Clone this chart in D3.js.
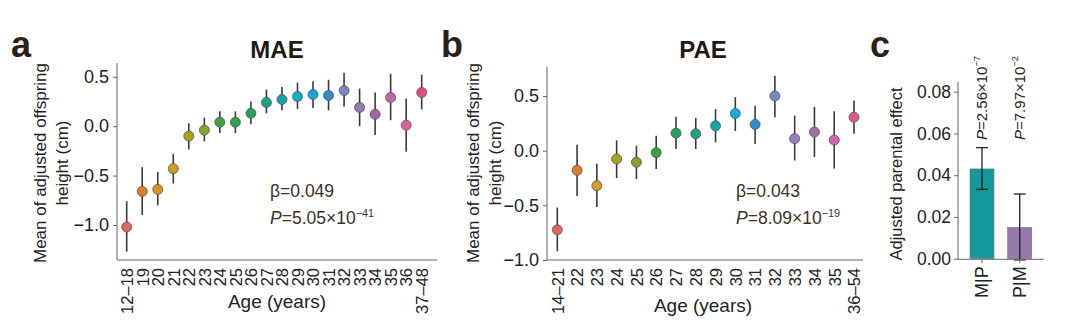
<!DOCTYPE html>
<html>
<head>
<meta charset="utf-8">
<script src="https://cdn.jsdelivr.net/npm/d3@7"></script>
<style>
  body { margin: 0; background: #fff; }
  svg { display: block; font-family: Arial, "Liberation Sans", Helvetica, sans-serif; }
  .axis path, .axis line { stroke: #666; }
  .axis text { fill: #222; }
</style>
</head>
<body>
<svg id="fig" width="1080" height="324"></svg>
<script>
// maternal age effect (panel a)
var maeAges  = ['12–18','19','20','21','22','23','24','25','26','27','28','29','30','31','32','33','34','35','36','37–48'];
var maeMean  = [-1.02,-0.66,-0.64,-0.43,-0.10,-0.04,0.04,0.04,0.13,0.24,0.27,0.30,0.32,0.31,0.36,0.19,0.12,0.29,0.01,0.34];
var maeLow   = [-1.27,-0.90,-0.80,-0.58,-0.235,-0.155,-0.07,-0.07,0.02,0.13,0.16,0.175,0.185,0.16,0.20,0.00,-0.09,0.06,-0.26,0.17];
var maeHigh  = [-0.76,-0.415,-0.465,-0.28,0.03,0.085,0.15,0.15,0.25,0.37,0.395,0.44,0.455,0.47,0.54,0.38,0.34,0.53,0.28,0.52];
var maeColors = ['#e8625c','#e37b2a','#d8951e','#c4a21c','#a5a41c','#7fa52a','#3fa33c','#2ea24c','#20a25e','#13a487','#12a3a6',
                 '#14a9c6','#16a3dc','#2f8bd0','#7c86c4','#9679b8','#a2659f','#c865a8','#e25f9e','#e04b7c'];

// paternal age effect (panel b)
var paeAges  = ['14–21','22','23','24','25','26','27','28','29','30','31','32','33','34','35','36–54'];
var paeMean  = [-0.724,-0.18,-0.32,-0.076,-0.106,-0.018,0.16,0.155,0.227,0.34,0.24,0.50,0.11,0.17,0.097,0.306];
var paeLow   = [-0.92,-0.415,-0.515,-0.25,-0.26,-0.167,0.015,0.015,0.076,0.18,0.06,0.306,-0.09,-0.058,-0.164,0.155];
var paeHigh  = [-0.52,0.055,-0.12,0.094,0.045,0.136,0.31,0.30,0.38,0.49,0.41,0.685,0.32,0.40,0.36,0.458];
var paeColors = ['#e8625c','#e17c22','#d59d22','#a9a21f','#7ea52f','#34a243','#20a262','#1fa27e','#12a7a6','#12ade0',
                 '#2b90d0','#7886c6','#957fbf','#a669a9','#d062b0','#e0598a'];

// parental effect comparison (panel c)
var pairLabels = ['M|P','P|M'];
var pairEffect = [0.043, 0.015];
var pairLow    = [0.0332, -0.0006];
var pairHigh   = [0.0532, 0.031];
var pairP      = [['2.56','-7'], ['7.97','-2']];
var pairColors = ['#14999a','#9479aa'];

var yTicks = [-1.0, -0.5, 0.0, 0.5];
var effectTicks = [0, 0.02, 0.04, 0.06, 0.08];

var svg = d3.select('#fig');
var ink = '#3d3029';

function panelLetter(x, y, s) {
    svg.append('text').attr('x', x).attr('y', y)
        .attr('font-size', 36).attr('font-weight', 'bold').attr('fill', '#2d1e17')
        .text(s);
}

// writes "P=a×10^b" into a text element, P in italics
function pText(sel, mant, expo) {
    sel.append('tspan').attr('font-style', 'italic').text('P');
    sel.append('tspan').text('=' + mant + '×10');
    sel.append('tspan').attr('dy', -7).attr('font-size', '0.62em').text(expo.replace('-', '−'));
}

function dotPanel(o) {
    var x = d3.scalePoint().domain(o.cats).range(o.xr);
    var y = d3.scaleLinear().domain(o.yd).range([o.bottom, o.top]);
    var g = svg.append('g');

    // y axis
    var ya = g.append('g').attr('class', 'axis')
        .attr('transform', 'translate(' + o.axisX + ',0)')
        .call(d3.axisLeft(y).tickValues(yTicks).tickSize(4).tickSizeOuter(0).tickPadding(4));
    ya.select('.domain').remove();
    ya.selectAll('text').attr('font-size', 18).text(function(d) { return d3.format('.1f')(d).replace('-', '−'); });
    g.append('line').attr('x1', o.axisX).attr('x2', o.axisX).attr('y1', o.top).attr('y2', o.bottom)
        .attr('stroke', '#666');

    // x axis
    var xa = g.append('g').attr('class', 'axis')
        .attr('transform', 'translate(0,' + o.bottom + ')')
        .call(d3.axisBottom(x).tickSize(0).tickPadding(0));
    xa.select('.domain').remove();
    xa.selectAll('text')
        .attr('font-size', 16.5)
        .attr('text-anchor', 'end')
        .attr('dy', '0.35em')
        .attr('transform', 'translate(0,8) rotate(-90)')
        .attr('x', 0).attr('y', 0);
    g.append('line').attr('x1', o.axisX).attr('x2', o.axisEnd).attr('y1', o.bottom).attr('y2', o.bottom)
        .attr('stroke', '#666');

    // error bars and points
    g.selectAll('.err').data(o.cats).enter().append('line')
        .attr('x1', function(d) { return x(d); }).attr('x2', function(d) { return x(d); })
        .attr('y1', function(d, i) { return y(o.low[i]); })
        .attr('y2', function(d, i) { return y(o.high[i]); })
        .attr('stroke', '#3a3a3a').attr('stroke-width', 1.6);
    g.selectAll('.pt').data(o.cats).enter().append('circle')
        .attr('cx', function(d) { return x(d); })
        .attr('cy', function(d, i) { return y(o.mean[i]); })
        .attr('r', 5)
        .attr('fill', function(d, i) { return o.colors[i]; })
        .attr('stroke', '#555').attr('stroke-width', 0.8);

    // titles
    g.append('text').attr('x', o.titleX).attr('y', 58).attr('text-anchor', 'middle')
        .attr('font-size', 24).attr('font-weight', 'bold').attr('fill', '#231812').text(o.title);
    g.append('text').attr('x', o.titleX).attr('y', o.xlabY).attr('text-anchor', 'middle')
        .attr('font-size', 19).attr('fill', '#222').text('Age (years)');
    var yl = g.append('text').attr('transform', 'translate(' + o.ylabX + ',163) rotate(-90)')
        .attr('text-anchor', 'middle').attr('font-size', 17).attr('fill', '#222');
    yl.append('tspan').attr('x', 0).attr('dy', 0).text('Mean of adjusted offspring');
    yl.append('tspan').attr('x', 0).attr('dy', 22).text('height (cm)');

    // regression annotation
    g.append('text').attr('x', o.noteX).attr('y', 197).attr('font-size', 17.5).attr('fill', ink)
        .text('β=' + o.beta);
    pText(g.append('text').attr('x', o.noteX).attr('y', 224).attr('font-size', 17.5).attr('fill', ink),
        o.p[0], o.p[1]);
}

dotPanel({
    cats: maeAges, mean: maeMean, low: maeLow, high: maeHigh, colors: maeColors,
    xr: [126.7, 421.7], yd: [-1.354, 0.639], top: 63, bottom: 260,
    axisX: 117, axisEnd: 437, titleX: 277, xlabY: 308, ylabX: 46,
    title: 'MAE', noteX: 270, beta: '0.049', p: ['5.05', '-41']
});

dotPanel({
    cats: paeAges, mean: paeMean, low: paeLow, high: paeHigh, colors: paeColors,
    xr: [557.3, 854], yd: [-1.0, 0.768], top: 66.7, bottom: 260,
    axisX: 547, axisEnd: 863, titleX: 703, xlabY: 312, ylabX: 479,
    title: 'PAE', noteX: 736, beta: '0.043', p: ['8.09', '-19']
});

// panel c: bars with error bars
(function() {
    var x = d3.scaleBand().domain(pairLabels).range([958, 1043.7]).paddingInner(0.363).paddingOuter(0.318);
    var y = d3.scaleLinear().domain([-0.0003, 0.0848]).range([259.3, 81.7]);
    var g = svg.append('g');

    g.selectAll('.bar').data(pairLabels).enter().append('rect')
        .attr('x', function(d) { return x(d); })
        .attr('width', x.bandwidth())
        .attr('y', function(d, i) { return y(pairEffect[i]); })
        .attr('height', function(d, i) { return y(0) - y(pairEffect[i]); })
        .attr('fill', function(d, i) { return pairColors[i]; })
        .attr('stroke', '#777').attr('stroke-width', 0.6);

    var cap = 6;
    pairLabels.forEach(function(d, i) {
        var cx = x(d) + x.bandwidth() / 2;
        g.append('line').attr('x1', cx).attr('x2', cx).attr('y1', y(pairLow[i])).attr('y2', y(pairHigh[i]))
            .attr('stroke', '#222').attr('stroke-width', 1.3);
        [pairLow[i], pairHigh[i]].forEach(function(v) {
            g.append('line').attr('x1', cx - cap).attr('x2', cx + cap).attr('y1', y(v)).attr('y2', y(v))
                .attr('stroke', '#222').attr('stroke-width', 1.3);
        });
        pText(g.append('text').attr('transform', 'translate(' + (cx + 5) + ',140) rotate(-90)')
            .attr('font-size', 15).attr('fill', '#222'), pairP[i][0], pairP[i][1]);
    });

    var ya = g.append('g').attr('class', 'axis')
        .attr('transform', 'translate(958,0)')
        .call(d3.axisLeft(y).tickValues(effectTicks).tickFormat(d3.format('.2f')).tickSize(4).tickSizeOuter(0).tickPadding(3));
    ya.select('.domain').remove();
    ya.selectAll('text').attr('font-size', 17.5);
    g.append('line').attr('x1', 958).attr('x2', 958).attr('y1', 81.7).attr('y2', 259.3).attr('stroke', '#666');

    var xa = g.append('g').attr('class', 'axis')
        .attr('transform', 'translate(0,259.3)')
        .call(d3.axisBottom(x).tickSize(4).tickSizeOuter(0).tickPadding(0));
    xa.select('.domain').remove();
    xa.selectAll('text')
        .attr('font-size', 18)
        .attr('text-anchor', 'end')
        .attr('dy', '0.35em')
        .attr('transform', 'translate(0,7) rotate(-90)')
        .attr('x', 0).attr('y', 0);
    g.append('line').attr('x1', 958).attr('x2', 1043.7).attr('y1', 259.3).attr('y2', 259.3).attr('stroke', '#666');

    g.append('text').attr('transform', 'translate(902,174) rotate(-90)')
        .attr('text-anchor', 'middle').attr('font-size', 16.5).attr('fill', '#222')
        .text('Adjusted parental effect');
})();

panelLetter(11, 57, 'a');
panelLetter(441, 57, 'b');
panelLetter(870, 57, 'c');
</script>
</body>
</html>
